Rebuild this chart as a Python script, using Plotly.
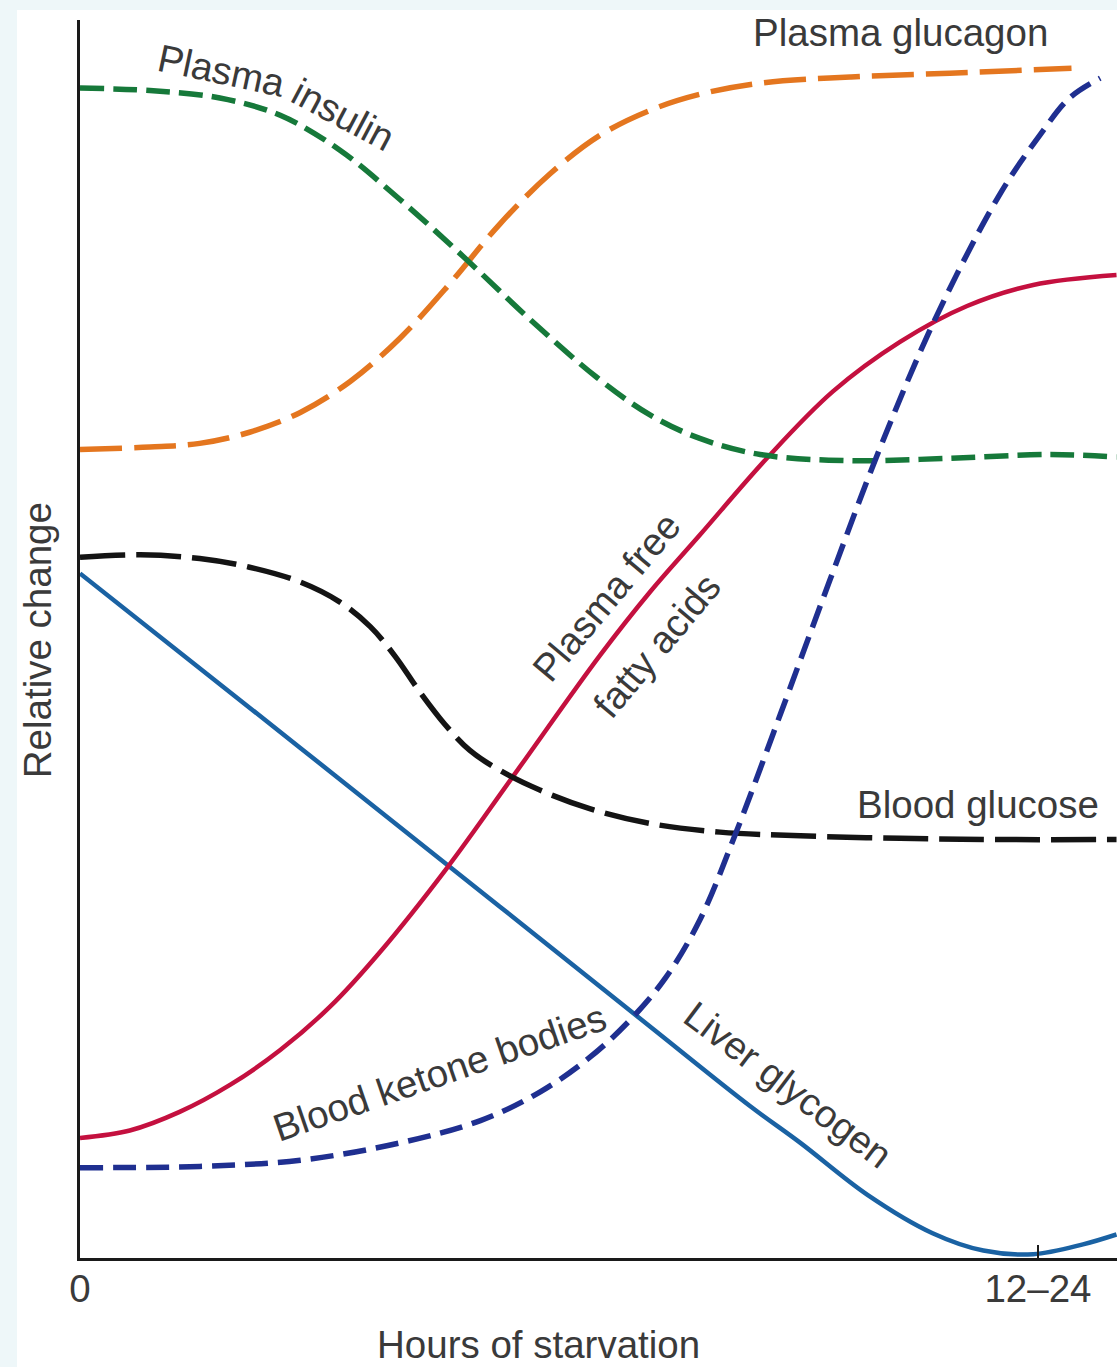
import plotly.graph_objects as go

# ---- data (time normalised so that the "12–24" tick is at 1.0; relative change 0–100) ----
insulin_t = [0, 0.073, 0.146, 0.209, 0.271, 0.334, 0.400, 0.470, 0.540, 0.595, 0.647, 0.710, 0.804, 0.908, 1.013, 1.082]
insulin_y = [94.5, 94.3, 93.7, 92.3, 89.5, 85.5, 80.9, 75.8, 71.1, 68.1, 66.2, 64.9, 64.4, 64.6, 64.9, 64.7]

glucagon_t = [0, 0.073, 0.125, 0.177, 0.230, 0.282, 0.334, 0.386, 0.438, 0.491, 0.543, 0.595, 0.647, 0.710, 0.804, 0.908, 1.035]
glucagon_y = [65.3, 65.5, 65.8, 66.7, 68.3, 70.8, 74.3, 78.7, 83.5, 87.6, 90.7, 92.7, 94.0, 94.9, 95.4, 95.7, 96.1]

glucose_t = [0, 0.063, 0.125, 0.177, 0.230, 0.271, 0.303, 0.329, 0.355, 0.381, 0.407, 0.438, 0.480, 0.532, 0.595, 0.668, 0.752, 0.856, 0.960, 1.082]
glucose_y = [56.6, 56.8, 56.5, 55.8, 54.6, 53.0, 51.0, 48.6, 45.7, 43.1, 41.0, 39.4, 37.8, 36.3, 35.1, 34.4, 34.1, 33.9, 33.8, 33.8]

glycogen_t = [0, 0.230, 0.438, 0.595, 0.699, 0.752, 0.822, 0.890, 0.943, 0.995, 1.047, 1.082]
glycogen_y = [55.3, 41.2, 28.4, 18.7, 12.3, 9.3, 5.1, 2.0, 0.6, 0.3, 1.1, 1.9]

ffa_t = [0, 0.052, 0.104, 0.157, 0.209, 0.261, 0.313, 0.383, 0.452, 0.543, 0.595, 0.647, 0.717, 0.786, 0.856, 0.926, 0.995, 1.082]
ffa_y = [9.7, 10.3, 11.8, 14.0, 16.8, 20.3, 24.7, 31.5, 38.9, 48.7, 53.8, 58.4, 64.6, 70.0, 74.0, 76.9, 78.6, 79.4]

ketone_t = [0, 0.125, 0.230, 0.334, 0.418, 0.480, 0.532, 0.574, 0.611, 0.647, 0.684, 0.731, 0.783, 0.835, 0.893, 0.960, 1.002, 1.033, 1.065]
ketone_y = [7.3, 7.4, 7.9, 9.3, 11.1, 13.4, 16.2, 19.2, 22.6, 27.3, 34.2, 43.9, 54.8, 65.4, 75.9, 85.9, 90.7, 93.7, 95.3]

tick_vals = [0, 1.0]
tick_text = ["0", "12\u201324"]

FONT = "Liberation Sans, Arial, Helvetica, sans-serif"
TXT = "#3a3a3a"
FS = 38.5

fig = go.Figure()

def add_line(t, y, color, width, dash):
    fig.add_trace(go.Scatter(
        x=t, y=y, mode="lines",
        line=dict(color=color, width=width, dash=dash, shape="spline", smoothing=1.0),
        hoverinfo="skip", showlegend=False))

add_line(glycogen_t, glycogen_y, "#1a62a3", 4.5, "solid")
add_line(ffa_t, ffa_y, "#c4103f", 4.5, "solid")
add_line(glucose_t, glucose_y, "#141414", 5.5, "45px,11px")
add_line(glucagon_t, glucagon_y, "#e4761f", 5.5, "42px,12px")
add_line(insulin_t, insulin_y, "#16793a", 5.5, "24px,9px")
add_line(ketone_t, ketone_y, "#1f2f90", 5.5, "23px,10px")

labels = [
    dict(text="Plasma", x=0.148, y=95.9, textangle=12),
    dict(text="insulin", x=0.275, y=92.4, textangle=28),
    dict(text="Plasma glucagon", x=0.857, y=99.0, textangle=0),
    dict(text="Plasma free", x=0.550, y=53.4, textangle=-50),
    dict(text="fatty acids", x=0.602, y=49.5, textangle=-50),
    dict(text="Blood glucose", x=0.937, y=36.6, textangle=0),
    dict(text="Blood ketone bodies", x=0.375, y=15.0, textangle=-19),
    dict(text="Liver glycogen", x=0.739, y=14.0, textangle=37),
]
for lb in labels:
    fig.add_annotation(x=lb["x"], y=lb["y"], xref="x", yref="y", text=lb["text"],
                       textangle=lb["textangle"], showarrow=False,
                       xanchor="center", yanchor="middle",
                       font=dict(family=FONT, size=FS, color=TXT))

# axis titles
fig.add_annotation(x=-0.0415, xref="paper", y=49.9, yref="y", text="Relative change",
                   textangle=-90, showarrow=False, xanchor="center", yanchor="middle",
                   font=dict(family=FONT, size=FS, color=TXT))
fig.add_annotation(x=0.479, xref="x", y=-0.0700, yref="paper", text="Hours of starvation",
                   showarrow=False, xanchor="center", yanchor="middle",
                   font=dict(family=FONT, size=FS, color=TXT))

# white panel on light-blue page
fig.add_shape(type="rect", xref="paper", yref="paper", x0=-0.0608, x1=1.0, y0=-0.09, y1=1.008,
              fillcolor="white", line=dict(width=0), layer="below")

fig.update_layout(
    width=1117, height=1367,
    margin=dict(l=80, r=0, t=20, b=109),
    paper_bgcolor="#eef7f9", plot_bgcolor="white",
    xaxis=dict(range=[0, 1.0825], showgrid=False, zeroline=False, showline=True,
               linecolor="#1a1a1a", linewidth=3, tickvals=tick_vals, ticktext=tick_text,
               ticks="inside", ticklen=13, tickwidth=2, tickcolor="#1a1a1a",
               ticklabelstandoff=-5,
               tickfont=dict(family=FONT, size=FS, color=TXT)),
    yaxis=dict(range=[0, 100], showgrid=False, zeroline=False, showline=True,
               linecolor="#1a1a1a", linewidth=3, showticklabels=False, ticks=""),
)

fig.write_html("out.html", config={"displayModeBar": False},
               post_script="document.body.style.margin='0px';document.body.style.overflow='hidden';")
